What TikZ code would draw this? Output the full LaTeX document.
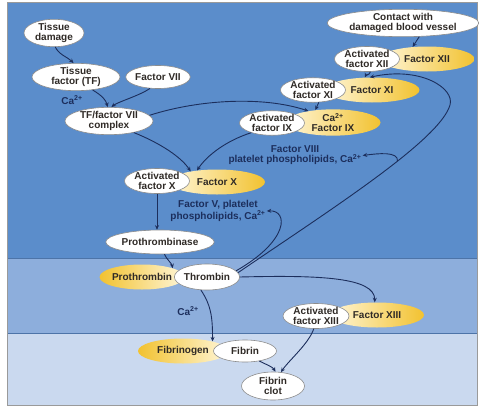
\documentclass[tikz,border=0pt]{standalone}
\usepackage{fontspec}
\setmainfont{Liberation Sans}
\usepackage{xcolor}
\usetikzlibrary{shapes.geometric,arrows.meta}
\definecolor{bandtop}{HTML}{5B8DCB}
\definecolor{bandmid}{HTML}{8DAEDC}
\definecolor{bandlow}{HTML}{CAD9EF}
\definecolor{bandline}{HTML}{4D74A8}
\definecolor{frame}{HTML}{9A9A9A}
\definecolor{ink}{HTML}{2F2A26}
\definecolor{navy}{HTML}{1C2E5C}
\definecolor{rim}{HTML}{8C8C8C}
\definecolor{gold}{HTML}{F2C230}
\definecolor{paleyel}{HTML}{FFF6D8}
\newcommand{\nodefont}{\fontsize{10}{10}\selectfont\bfseries}
\newcommand{\caii}{Ca\textsuperscript{2+}}
\tikzset{
  sep/.style={draw=bandline, line width=1pt},
  wnode/.style={ellipse, draw=rim, line width=0.6pt, fill=white, inner sep=0pt, text=ink, align=center, font=\nodefont},
  gnode/.style={ellipse, draw=none, inner sep=0pt, left color=paleyel, right color=gold, text=ink, align=center, font=\nodefont, minimum height=25pt},
  gnodel/.style={gnode, left color=gold, right color=paleyel},
  note/.style={text=navy, align=center, font=\nodefont, inner sep=1pt},
  arr/.style={draw=navy, line width=0.9pt, -{Stealth[length=4.5pt,width=4pt]}},
}

\begin{document}
\begin{tikzpicture}[x=1pt,y=-1pt]
  \useasboundingbox (0,0) rectangle (479,407);
  \fill[bandtop] (7,2) rectangle (477,258);
  \fill[bandmid] (7,258) rectangle (477,333);
  \fill[bandlow] (7,333) rectangle (477,405);
  \draw[sep] (7,258) -- (477,258);
  \draw[sep] (7,333) -- (477,333);
  \draw[frame, line width=1pt] (7,2) rectangle (477,405);

  % extrinsic side
  \node[wnode, minimum width=60pt, minimum height=21pt] (dmg) at (54,33) {Tissue\\damage};
  \node[wnode, minimum width=88pt, minimum height=22pt] (tf) at (76,77) {Tissue\\factor (TF)};
  \node[wnode, minimum width=60pt, minimum height=23pt] (f7) at (158,77) {Factor VII};
  \node[note] (ca1) at (72,100) {\caii};
  \node[wnode, minimum width=88pt, minimum height=23pt] (cplx) at (109,121) {TF/factor VII\\complex};

  % intrinsic side
  \node[wnode, minimum width=135pt, minimum height=25pt] (contact) at (403,23) {Contact with\\damaged blood vessel};
  \node[gnode, minimum width=95pt] (f12) at (427,59) {Factor XII};
  \node[wnode, minimum width=65pt, minimum height=25pt] (a12) at (367,59) {Activated\\factor XII};
  \node[gnode, minimum width=95pt] (f11) at (372,90) {Factor XI};
  \node[wnode, minimum width=65pt, minimum height=23pt] (a11) at (313,90) {Activated\\factor XI};
  \node[gnode, minimum width=95pt] (f9) at (333,122.5) {\caii\\Factor IX};
  \node[wnode, minimum width=65pt, minimum height=23pt] (a9) at (272,123) {Activated\\factor IX};
  \node[note] (f8note) at (295,155.5) {Factor VIII\\platelet phospholipids, \caii};

  % common pathway
  \node[gnode, minimum width=96pt] (f10) at (217,182) {Factor X};
  \node[wnode, minimum width=65pt, minimum height=25pt] (a10) at (157,181) {Activated\\factor X};
  \node[note] (f5note) at (218,211) {Factor V, platelet\\phospholipids, \caii};
  \node[wnode, minimum width=90pt, minimum height=24pt] (pthase) at (160,242) {Prothrombinase};
  \node[gnodel, minimum width=84pt] (pthbn) at (142,277) {Prothrombin};
  \node[wnode, minimum width=63pt, minimum height=26pt] (thr) at (207,277) {Thrombin};
  \node[note] (ca2) at (188,311) {\caii};
  \node[gnode, minimum width=94pt] (f13) at (377,315) {Factor XIII};
  \node[wnode, minimum width=66pt, minimum height=25pt] (a13) at (316,316) {Activated\\factor XIII};
  \node[gnodel, minimum width=90pt] (fbg) at (183,351) {Fibrinogen};
  \node[wnode, minimum width=63pt, minimum height=22pt] (fbn) at (245,351) {Fibrin};
  \node[wnode, minimum width=63pt, minimum height=28pt] (clot) at (273,386) {Fibrin\\clot};

  \coordinate (viiifork) at (397.5,161.1); % lies on the thrombin feedback curve

  \draw[arr] (dmg.-85) .. controls +(4,8) and +(-6,-6) .. (tf.100);
  \draw[arr] (tf.-38) .. controls +(10,6) and +(-2,-7) .. (cplx.95);
  \draw[arr] (f7.-125) .. controls +(-10,7) and +(6,-5) .. (cplx.80);
  \draw[arr] (cplx.8) .. controls +(50,-16) and +(-45,-15) .. (f9.155);
  \draw[arr] (cplx.-25) .. controls +(25,10) and +(-10,-15) .. (f10.158);
  \draw[arr] (a9.-155) .. controls +(-25,8) and +(10,-15) .. (f10.150);

  \draw[arr] (contact.-40) -- (f12.140);
  \draw[arr] (a12.-75) .. controls +(-2,5) and +(2,-4) .. (f11.120);
  \draw[arr] (a11.-65) -- (f9.145);

  \draw[arr] (a10.south) -- (a10.south |- pthase.north);
  \draw[arr] (pthase.-70) .. controls +(2,5) and +(-1,-5) .. (pthbn.16);

  % thrombin feedback
  \draw[arr] (thr.8) .. controls (330,210) and (440,140) .. (450,105)
    .. controls (455,88) and (420,66) .. (f11.100);
  \draw[arr] (viiifork) .. controls +(1,-10) and +(15,-2) .. (f8note.east);
  \draw[arr] (thr.12) .. controls (290,240) and (288,210) .. (f5note.east);
  \draw[arr] (thr.east) .. controls +(80,-2) and +(0,-25) .. (f13.100);
  \draw[arr] (thr.-115) .. controls +(10,15) and +(0,-25) .. (fbg.18);

  \draw[arr] (fbn.-35) .. controls +(8,4) and +(-3,-5) .. (clot.80);
  \draw[arr] (a13.-100) .. controls +(-5,15) and +(8,-12) .. (clot.60);
\end{tikzpicture}
\end{document}
